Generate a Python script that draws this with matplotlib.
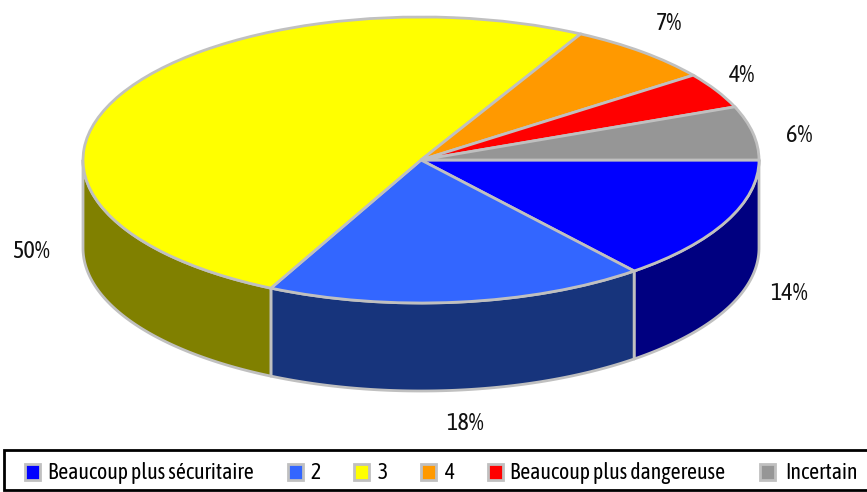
import numpy as np
import matplotlib
matplotlib.use("Agg")
import matplotlib.pyplot as plt
from matplotlib.patches import Rectangle

plt.rcParams['font.family'] = ['Asap Condensed', 'Barlow Condensed', 'Roboto', 'DejaVu Sans']

labels = ['Beaucoup plus sécuritaire', '2', '3', '4', 'Beaucoup plus dangereuse', 'Incertain']
values = [14, 18, 50, 7, 4, 6]
value_labels = ['14%', '18%', '50%', '7%', '4%', '6%']
colors = ['#0000ff', '#3366ff', '#ffff00', '#ff9900', '#ff0000', '#969696']
side_colors = ['#000080', '#17347c', '#808000', '#804c00', '#800000', '#4b4b4b']

W, H = 867, 492
CX, CY, RX, RY, DEPTH = 421, 160, 338, 143, 88
EDGE = '#c0c0c0'

fig = plt.figure(figsize=(W / 100, H / 100), dpi=100)
ax = fig.add_axes([0, 0, 1, 1])


def px(x, y):
    # pixels of the picture -> units of the pie
    return (x - CX) / RX, (CY - y) / RY


# side walls first, only the front half of the ring can be seen
depth = DEPTH / RY
cum = np.cumsum([0] + values) / sum(values) * 360
for i, c in enumerate(side_colors):
    a1, a2 = cum[i], min(cum[i + 1], 180)
    if a1 >= 180:
        continue
    t = np.radians(np.linspace(a1, a2, 80))
    xs = np.cos(t)
    ys = -np.sin(t)
    ax.fill(np.r_[xs, xs[::-1]], np.r_[ys, ys[::-1] - depth],
            facecolor=c, edgecolor=EDGE, linewidth=2, joinstyle='round', zorder=1)

ax.pie(values, colors=colors, startangle=0, counterclock=False, radius=1,
       wedgeprops={'edgecolor': EDGE, 'linewidth': 2}, normalize=True)

ax.set_aspect('auto')
ax.set_xlim(px(0, 0)[0], px(W, 0)[0])
ax.set_ylim(px(0, H)[1], px(0, 0)[1])
ax.axis('off')

# percentages
label_pos = [(789, 294), (465, 424), (31, 251), (669, 23), (742, 76), (799, 136)]
for txt, (x, y) in zip(value_labels, label_pos):
    ax.text(*px(x, y), txt, ha='center', va='center', fontsize=17.5, color='#111111')

# legend band
x0, y0 = px(4, 490)
x1, y1 = px(870, 450)
ax.add_patch(Rectangle((x0, y0), x1 - x0, y1 - y0, facecolor='white',
                       edgecolor='black', linewidth=2, clip_on=True, zorder=3))
swatch_x = [25, 288, 354, 421, 488, 760]
text_x = [48, 310, 378, 444, 510, 785]
for lab, c, sx, tx in zip(labels, colors, swatch_x, text_x):
    a, b = px(sx, 480)
    a2, b2 = px(sx + 15, 464)
    ax.add_patch(Rectangle((a, b), a2 - a, b2 - b, facecolor=c, edgecolor=EDGE,
                           linewidth=2, zorder=4))
    ax.text(*px(tx, 473), lab, ha='left', va='center', fontsize=15.7, color='black', zorder=4)

fig.savefig('out.png', dpi=100)
